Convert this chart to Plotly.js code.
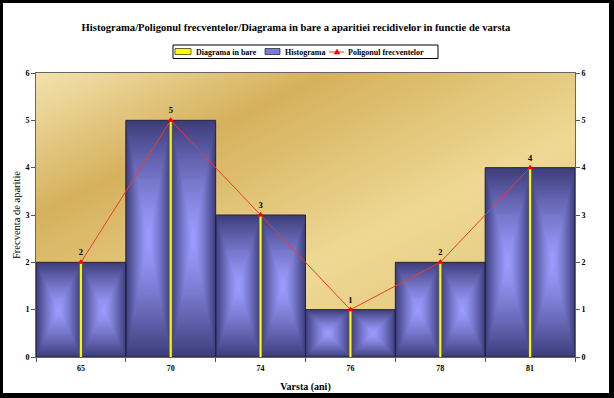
<!DOCTYPE html>
<html><head><meta charset="utf-8">
<script src="https://cdn.plot.ly/plotly-3.0.1.min.js"></script>
<style>
html,body{margin:0;padding:0;background:#000;width:614px;height:398px;overflow:hidden}
#chart{position:absolute;left:3px;top:3px;width:606px;height:390px;background:#fff}
</style></head>
<body><div id="chart"></div>
<script>
// ---- data ----
const categories = ['65', '70', '74', '76', '78', '81'];
const frequencies = [2, 5, 3, 1, 2, 4];
const yTickValues = [0, 1, 2, 3, 4, 5, 6];
const seriesNames = ['Diagrama in bare', 'Histograma', 'Poligonul frecventelor'];

const FONT = '"Liberation Serif", "Times New Roman", serif';

// ---- textures (background and bar fill) ----
function bgTexture() {
  const c = document.createElement('canvas');
  c.width = 539; c.height = 284;
  const g = c.getContext('2d');
  const lg = g.createLinearGradient(0, 0, 218, 442);
  lg.addColorStop(0.0, '#f3e2ad');
  lg.addColorStop(0.26, '#d5b15c');
  lg.addColorStop(0.60, '#eed994');
  lg.addColorStop(1.0, '#dcbb68');
  g.fillStyle = lg; g.fillRect(0, 0, c.width, c.height);
  return c.toDataURL('image/png');
}
function barTexture() {
  const W = 100, H = 200, half = 50;
  const c = document.createElement('canvas');
  c.width = W; c.height = H;
  const g = c.getContext('2d');
  const img = g.createImageData(W, H);
  const light = [156, 156, 255], dark = [60, 60, 122];
  for (let y = 0; y < H; y++) {
    for (let x = 0; x < W; x++) {
      const lx = (x % half + 0.5) / half;
      const dx = Math.abs(lx - 0.5) * 2;
      const dy = Math.abs((y + 0.5) / H - 0.5) * 2;
      const d = Math.pow(Math.max(dx, dy), 1.3);
      const i = (y * W + x) * 4;
      for (let k = 0; k < 3; k++) img.data[i + k] = Math.round(light[k] + (dark[k] - light[k]) * d);
      img.data[i + 3] = 255;
    }
  }
  g.putImageData(img, 0, 0);
  return c.toDataURL('image/png');
}
const bgURL = bgTexture();
const barURL = barTexture();

const images = [{
  source: bgURL, xref: 'paper', yref: 'paper', x: 0, y: 1, sizex: 1, sizey: 1,
  xanchor: 'left', yanchor: 'top', sizing: 'stretch', layer: 'below'
}];
frequencies.forEach((v, i) => {
  images.push({
    source: barURL, xref: 'x', yref: 'y', x: i - 0.5, y: v, sizex: 1, sizey: v,
    xanchor: 'left', yanchor: 'top', sizing: 'stretch', layer: 'below'
  });
});

// ---- custom compact legend (pixel positions inside the chart div) ----
const M = { l: 33, r: 34, t: 70, b: 36 }, DW = 606, DH = 390;
const PW = DW - M.l - M.r, PH = DH - M.t - M.b;
const fx = X => (X - M.l) / PW;
const fy = Y => (DH - M.b - Y) / PH;
const legendFont = { family: FONT, size: 8, color: '#000', weight: 'bold' };
const shapes = [
  { type: 'rect', xref: 'paper', yref: 'paper', x0: fx(170), x1: fx(435), y0: fy(55.5), y1: fy(42),
    line: { color: '#000', width: 1 }, fillcolor: '#fff' },
  { type: 'rect', xref: 'paper', yref: 'paper', x0: fx(172), x1: fx(188), y0: fy(51.5), y1: fy(45.5),
    line: { color: '#000', width: 0.6 }, fillcolor: '#ffff00' },
  { type: 'rect', xref: 'paper', yref: 'paper', x0: fx(262), x1: fx(277), y0: fy(51.5), y1: fy(45.5),
    line: { color: '#000', width: 0.6 }, fillcolor: '#7c7cd6' },
  { type: 'line', xref: 'paper', yref: 'paper', x0: fx(326), x1: fx(341), y0: fy(49), y1: fy(49),
    line: { color: '#ee3b2b', width: 1 } },
  { type: 'path', xref: 'paper', yref: 'paper',
    path: `M ${fx(331.2)} ${fy(51)} L ${fx(336.8)} ${fy(51)} L ${fx(334)} ${fy(46)} Z`,
    line: { color: '#ff0000', width: 0.5 }, fillcolor: '#ff0000' }
];
const annotations = [
  { text: seriesNames[0], x: fx(190.5), y: fy(49), xanchor: 'left', yanchor: 'middle' },
  { text: seriesNames[1], x: fx(279.5), y: fy(49), xanchor: 'left', yanchor: 'middle' },
  { text: seriesNames[2], x: fx(342.5), y: fy(49), xanchor: 'left', yanchor: 'middle' }
].map(a => Object.assign(a, { xref: 'paper', yref: 'paper', showarrow: false, font: legendFont }));

const traces = [
  { // histogram (fill comes from gradient images, outline from here)
    type: 'bar', name: seriesNames[1], x: categories, y: frequencies, width: 1,
    marker: { color: 'rgba(0,0,0,0)', line: { color: '#22223f', width: 1 } }
  },
  { // bar diagram (thin yellow bars)
    type: 'bar', name: seriesNames[0], x: categories, y: frequencies, width: 0.024,
    marker: { color: '#ffff00', line: { color: '#b8b800', width: 0.3 } }
  },
  { // frequency polygon
    type: 'scatter', mode: 'lines+markers+text', name: seriesNames[2], yaxis: 'y2',
    x: categories, y: frequencies, text: frequencies.map(String),
    textposition: 'top center', cliponaxis: false,
    textfont: { family: FONT, size: 8.5, color: '#000', weight: 'bold' },
    line: { color: '#ee3b2b', width: 1 },
    marker: { symbol: 'triangle-up', size: 6, color: '#ff0000' }
  }
];

const axisFont = { family: FONT, size: 8, color: '#000', weight: 'bold' };

const layout = {
  width: DW, height: DH,
  margin: M,
  paper_bgcolor: '#ffffff',
  plot_bgcolor: 'rgba(0,0,0,0)',
  barmode: 'overlay', bargap: 0,
  showlegend: false,
  title: {
    text: 'Histograma/Poligonul frecventelor/Diagrama in bare a aparitiei recidivelor in functie de varsta',
    font: { family: FONT, size: 10.6, color: '#000', weight: 'bold' },
    x: 293 / DW, xanchor: 'center', y: 1 - 24 / DH, yanchor: 'middle'
  },
  xaxis: {
    type: 'category', categoryorder: 'array', categoryarray: categories,
    range: [-0.5, categories.length - 0.5],
    tickson: 'boundaries', ticks: 'outside', ticklen: 4, tickcolor: '#555',
    ticklabelstandoff: 3,
    showline: true, linecolor: '#666', linewidth: 1, mirror: true,
    showgrid: false, zeroline: false, tickfont: axisFont,
    title: { text: 'Varsta (ani)', font: { family: FONT, size: 10, color: '#000', weight: 'bold' }, standoff: 13 }
  },
  yaxis: {
    range: [0, 6], tickvals: yTickValues, ticks: 'outside', ticklen: 4, tickcolor: '#555',
    showline: true, linecolor: '#666', linewidth: 1,
    showgrid: false, zeroline: false, tickfont: axisFont,
    title: { text: 'Frecventa de aparitie', font: { family: FONT, size: 10.5, color: '#000' }, standoff: 2 }
  },
  yaxis2: {
    overlaying: 'y', side: 'right', range: [0, 6], tickvals: yTickValues,
    ticks: 'outside', ticklen: 4, tickcolor: '#555',
    showline: true, linecolor: '#666', linewidth: 1,
    showgrid: false, zeroline: false, tickfont: axisFont
  },
  images: images,
  shapes: shapes,
  annotations: annotations
};

Plotly.newPlot('chart', traces, layout, { staticPlot: true, displayModeBar: false });
</script>
</body></html>
